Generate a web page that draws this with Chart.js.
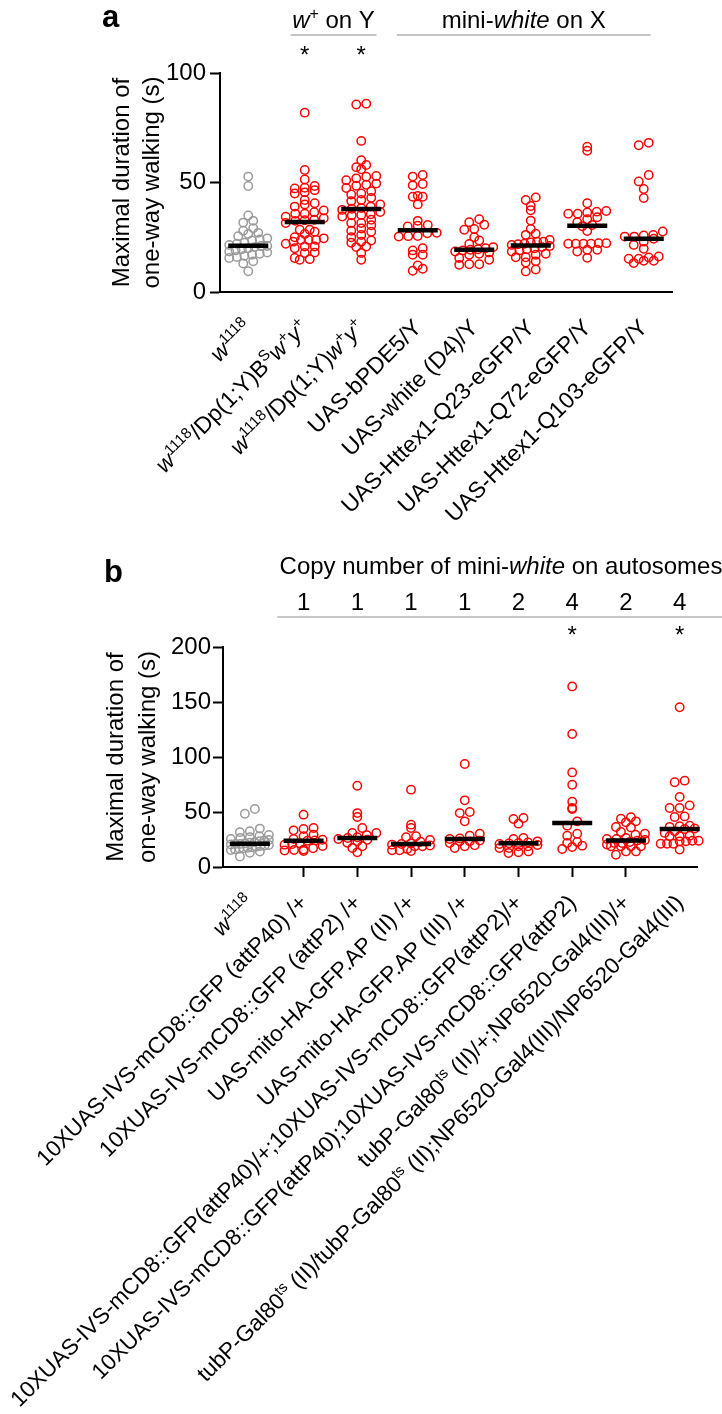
<!DOCTYPE html>
<html><head><meta charset="utf-8">
<script src="https://cdn.jsdelivr.net/npm/chart.js@4.4.1/dist/chart.umd.min.js"></script>
<style>
html,body{margin:0;padding:0;background:#fff;}
#wrap{position:relative;width:722px;height:1414px;overflow:hidden;background:#fff;}
.box{position:absolute;left:0;width:722px;}
canvas{display:block;}
</style></head><body>
<div id="wrap">
<div class="box" style="top:0;height:545px"><canvas id="chartA" width="722" height="545"></canvas></div>
<div class="box" style="top:545px;height:869px"><canvas id="chartB" width="722" height="869"></canvas></div>
</div>
<script>
// ---------------- DATA ----------------
const categoriesA = [
  '<i>w</i><sup>1118</sup>',
  '<i>w</i><sup>1118</sup>/Dp(1;Y)B<sup>S</sup><i>w</i><sup>+</sup><i>y</i><sup>+</sup>',
  '<i>w</i><sup>1118</sup>/Dp(1;Y)<i>w</i><sup>+</sup><i>y</i><sup>+</sup>',
  'UAS-bPDE5/Y',
  'UAS-white (D4)/Y',
  'UAS-Httex1-Q23-eGFP/Y',
  'UAS-Httex1-Q72-eGFP/Y',
  'UAS-Httex1-Q103-eGFP/Y'
];
const categoriesB = [
  '<i>w</i><sup>1118</sup>',
  '10XUAS-IVS-mCD8::GFP (attP40) /+',
  '10XUAS-IVS-mCD8::GFP (attP2) /+',
  'UAS-mito-HA-GFP.AP (II) /+',
  'UAS-mito-HA-GFP.AP (III) /+',
  '10XUAS-IVS-mCD8::GFP(attP40)/+;10XUAS-IVS-mCD8::GFP(attP2)/+',
  '10XUAS-IVS-mCD8::GFP(attP40);10XUAS-IVS-mCD8::GFP(attP2)',
  'tubP-Gal80<sup>ts</sup> (II)/+;NP6520-Gal4(III)/+',
  'tubP-Gal80<sup>ts</sup> (II)/tubP-Gal80<sup>ts</sup> (II);NP6520-Gal4(III)/NP6520-Gal4(III)'
];

const controlW1118 = [52.7, 48.4, 34.9, 32.5, 31.7, 29.1, 28, 27, 26.5, 25.5, 24.5, 24, 23.5, 22.5, 22, 21.5, 21, 21, 20.5, 20, 19.5, 19, 18.5, 18, 17.5, 17, 16.5, 16, 15.5, 14, 13, 9.5];

const a_dpBS = [81.9, 55.7, 51.4, 48.4, 47.6, 47.3, 46.5, 45.5, 45, 42, 40.5, 40, 39, 37.2, 36.4, 35.7, 35.7, 34.4, 33.7, 33, 32.8, 32.5, 31.5, 28.4, 28.4, 27.5, 26.5, 25, 24.5, 23.8, 23.8, 23.8, 23, 22, 20.8, 20.8, 20, 18, 17.8, 15.5, 15, 14.7];
const a_dpW = [86, 85.6, 69, 60.2, 58, 57, 56, 53, 52.6, 51.9, 51, 49.5, 49, 48.5, 47.5, 46, 45, 44.5, 43, 42, 41.5, 40, 39, 38, 38.3, 37.5, 36.5, 35.5, 35.2, 35, 34.5, 33, 31.5, 31.5, 30.5, 29, 28, 27.5, 26, 25, 23.5, 23, 22.5, 20.8, 20.5, 17.8, 14.7];
const a_bPDE5 = [53.4, 52.7, 49.3, 48.7, 43.9, 43.5, 43.5, 40, 32.5, 30.6, 30.3, 29.9, 27, 26.8, 25.6, 25.5, 25.3, 20, 19, 17, 17, 12.1, 10.6, 9.7];
const a_whiteD4 = [33.2, 31.9, 30.7, 28.8, 28.4, 25, 23.5, 21.9, 20.5, 20, 19.5, 19.3, 19, 18.5, 18, 17.5, 17, 15.5, 14.7, 12.7, 12.4, 12.7];
const a_Q23 = [43.2, 42, 39.3, 37.3, 32.6, 28.8, 26.6, 26.1, 23.8, 23, 23, 22.6, 22, 21.8, 21.5, 21, 20.5, 20, 19.5, 19, 18.5, 17.5, 17, 15.9, 15.9, 14, 13.5, 10.3, 9.4];
const a_Q72 = [66.3, 64.5, 40.5, 37, 36.7, 36.3, 35.7, 35.7, 34.1, 33.2, 31.9, 30.6, 30, 27.8, 22.3, 22.3, 22, 22, 22, 22, 19.3, 19.3, 18.5, 15.6];
const a_Q103 = [68.1, 67, 53.4, 50.5, 47, 42.9, 27.6, 26, 25.8, 25.3, 25.3, 24.3, 23, 21.5, 19.7, 16.2, 15.8, 15.2, 15.2, 14.3, 14.3, 13.2];
const mediansA = [21.1, 32, 37.9, 28.2, 19.3, 21.2, 30.3, 24.3];

const b_attP40 = [47.6, 35.5, 34.5, 33.3, 29.4, 27.9, 25.5, 24.8, 24.2, 23.9, 21.5, 20.9, 20.3, 19, 17, 15.8, 15.5, 15, 14.5];
const b_attP2 = [73.9, 49, 45.5, 35.5, 31, 30.9, 29, 27, 26.4, 25.5, 24.8, 23.3, 22, 18.8, 17.3, 13.3];
const b_mitoII = [70.3, 38.5, 35.5, 27.9, 27, 24.5, 23, 21.5, 20.9, 20.3, 19.5, 18.8, 18.8, 16.4, 15.2, 15.2, 14.5];
const b_mitoIII = [93.6, 60.6, 50, 49, 41.5, 30.3, 28.5, 26, 25.5, 24, 23.3, 23.3, 21.8, 19.7, 18.8, 17.3];
const b_twoCopies = [44.5, 43.6, 39.4, 26.4, 25.5, 23.3, 22.4, 21.8, 21.5, 20.9, 20, 18.8, 18.8, 17.3, 17.3, 14.2, 13.3, 12.7];
const b_fourCopies = [164.2, 120.9, 86, 74.8, 59.4, 53.6, 52.7, 41.5, 37.6, 30.3, 28.5, 22.7, 21.8, 19.4, 18.2, 16.4];
const b_tubNP = [45.2, 43.9, 41.5, 40.6, 36.4, 36, 31.8, 30.3, 29.4, 26.4, 25.5, 25.5, 24.5, 24, 22.7, 21.8, 21.8, 20.5, 18.8, 18.8, 18.8, 18.8, 14.2, 14.2, 11.2];
const b_tubNP2 = [145.2, 78.5, 77, 63.6, 56, 53.6, 53.6, 46, 45.5, 37.5, 37, 36.5, 35, 34.5, 32.4, 31, 28.5, 27.9, 27.9, 23.9, 23.9, 23.3, 23.3, 21.2, 21.2, 21.2, 15.8];
const mediansB = [21.2, 23.9, 26.4, 20.9, 25.5, 21.5, 40, 24.2, 34.5];

const groupsA = [controlW1118, a_dpBS, a_dpW, a_bPDE5, a_whiteD4, a_Q23, a_Q72, a_Q103];
const groupsB = [controlW1118, b_attP40, b_attP2, b_mitoII, b_mitoIII, b_twoCopies, b_fourCopies, b_tubNP, b_tubNP2];

const yTicksA = [0, 50, 100];
const yTicksB = [0, 50, 100, 150, 200];
const copyNumbersB = ['1', '1', '1', '1', '2', '4', '2', '4'];
const asterisksA = [1, 2];
const asterisksB = [6, 8];
const yTitle = ['Maximal duration of', 'one-way walking (s)'];

// ---------------- DRAWING ----------------
const FAM = '"Liberation Sans", Arial, Helvetica, sans-serif';
Chart.defaults.font.family = FAM;
Chart.defaults.color = '#000';

function parseRich(str) {
  const runs = []; let it = false, sup = false;
  str.replace(/<(\/?)(i|sup)>|([^<]+)/g, (m, close, tag, text) => {
    if (text) runs.push({text, it, sup});
    else if (tag === 'i') it = !close; else sup = !close;
    return '';
  });
  return runs;
}
function runFont(r, size) {
  const s = r.sup ? size * 0.66 : size;
  return (r.it ? 'italic ' : '') + s + 'px ' + FAM;
}
function measureRuns(ctx, runs, size) {
  let w = 0;
  for (const r of runs) { ctx.font = runFont(r, size); w += ctx.measureText(r.text).width; }
  return w;
}
function drawRuns(ctx, runs, x, y, size) {
  let cx = x;
  for (const r of runs) {
    ctx.font = runFont(r, size);
    ctx.fillText(r.text, cx, y + (r.sup ? -size * 0.38 : 0));
    cx += ctx.measureText(r.text).width;
  }
}
function drawCentered(ctx, str, cx, y, size) {
  const runs = parseRich(str);
  const w = measureRuns(ctx, runs, size);
  drawRuns(ctx, runs, cx - w / 2, y, size);
}

// Row-based scatter arrangement (points in the same row are spread sideways)
function rowOffsets(pys, rowH, spacing, maxHalf) {
  const idx = pys.map((p, i) => i).sort((a, b) => pys[b] - pys[a]);
  const out = new Array(pys.length).fill(0);
  const rows = new Map();
  for (const i of idx) {
    const k = Math.floor(pys[i] / rowH);
    if (!rows.has(k)) rows.set(k, []);
    rows.get(k).push(i);
  }
  for (const arr of rows.values()) {
    const n = arr.length;
    let sp = spacing;
    if (n > 1 && (n - 1) * sp > 2 * maxHalf) sp = 2 * maxHalf / (n - 1);
    arr.forEach((i, j) => { out[i] = (j - (n - 1) / 2) * sp; });
  }
  return out;
}

function makePanel(canvasId, cfg) {
  const datasets = cfg.groups.map((vals, i) => ({
    label: 'g' + i,
    data: vals.map(v => ({x: i, y: v})),
    pointStyle: 'circle',
    pointRadius: 4.2,
    pointBorderWidth: 1.5,
    pointBorderColor: i === 0 ? '#9a9a9a' : '#ff0000',
    pointBackgroundColor: 'rgba(255,255,255,0)',
    showLine: false,
    order: 1,
    clip: false
  }));
  datasets.push({
    label: 'median',
    data: cfg.medians.map((m, i) => ({x: i, y: m})),
    pointStyle: 'line',
    pointRadius: 20,
    pointBorderWidth: 4.5,
    pointBorderColor: '#000',
    showLine: false,
    order: 0,
    clip: false
  });
  const gridOpts = {display: true, drawOnChartArea: false, drawTicks: true, tickLength: 10, tickWidth: 2, tickColor: '#000', color: '#000'};
  const decor = {
    id: 'decor',
    afterDraw(chart) {
      const ctx = chart.ctx; const xs = chart.scales.x;
      ctx.save();
      ctx.fillStyle = '#000'; ctx.textAlign = 'left'; ctx.textBaseline = 'alphabetic';
      cfg.categories.forEach((lab, i) => {
        const runs = parseRich(lab);
        const w = measureRuns(ctx, runs, cfg.labelSize);
        ctx.save();
        ctx.translate(xs.getPixelForValue(i) + 5, chart.chartArea.bottom + 37);
        ctx.rotate(-Math.PI / 4);
        drawRuns(ctx, runs, -w, 0, cfg.labelSize);
        ctx.restore();
      });
      cfg.header(ctx, chart);
      ctx.restore();
    }
  };
  const chart = new Chart(document.getElementById(canvasId), {
    type: 'scatter',
    data: {datasets},
    options: {
      responsive: false,
      animation: false,
      events: [],
      layout: {padding: cfg.padding},
      plugins: {legend: {display: false}, tooltip: {enabled: false}},
      scales: {
        x: {
          type: 'linear', min: -0.5, max: cfg.xMax,
          ticks: {display: false, stepSize: 1},
          afterBuildTicks: s => { s.ticks = s.ticks.filter(t => Number.isInteger(t.value)); },
          grid: gridOpts,
          border: {display: true, color: '#000', width: 2},
          afterFit: s => { s.height = cfg.xHeight; }
        },
        y: {
          type: 'linear', min: 0, max: cfg.yTicks[cfg.yTicks.length - 1],
          afterBuildTicks: s => { s.ticks = cfg.yTicks.map(v => ({value: v})); },
          ticks: {font: {size: 24}, color: '#000', padding: cfg.tickPad},
          grid: gridOpts,
          border: {display: true, color: '#000', width: 2},
          title: {display: true, text: yTitle, color: '#000', font: {size: 24, lineHeight: cfg.titleLH}, padding: {top: cfg.titlePad, bottom: 0}},
          afterFit: s => { s.width = cfg.yWidth; }
        }
      }
    },
    plugins: [decor]
  });
  const xs = chart.scales.x, ys = chart.scales.y;
  const pxPerX = xs.getPixelForValue(1) - xs.getPixelForValue(0);
  cfg.groups.forEach((vals, i) => {
    const offs = rowOffsets(vals.map(v => ys.getPixelForValue(v)), cfg.rowH, 10, 19);
    chart.data.datasets[i].data = vals.map((v, k) => ({x: i + offs[k] / pxPerX, y: v}));
  });
  chart.update('none');
  return chart;
}

// Panel a
makePanel('chartA', {
  categories: categoriesA, groups: groupsA, medians: mediansA, yTicks: yTicksA,
  padding: {left: 0, top: 73, right: 50, bottom: 0},
  xMax: 7.5, xHeight: 545 - 292, yWidth: 220, tickPad: 4, rowH: 7,
  titleLH: 1.25, titlePad: 107, labelSize: 23,
  header(ctx, chart) {
    const xs = chart.scales.x;
    ctx.font = 'bold 31px ' + FAM; ctx.fillText('a', 102, 27);
    const hdr = [
      {from: 0.75, to: 2.27, text: '<i>w</i><sup>+</sup> on Y'},
      {from: 2.63, to: 7.12, text: 'mini-<i>white</i> on X'}
    ];
    hdr.forEach(h => {
      const x0 = xs.getPixelForValue(h.from), x1 = xs.getPixelForValue(h.to);
      ctx.strokeStyle = '#b3b3b3'; ctx.lineWidth = 1.5;
      ctx.beginPath(); ctx.moveTo(x0, 35); ctx.lineTo(x1, 35); ctx.stroke();
      drawCentered(ctx, h.text, (x0 + x1) / 2, 28, 24);
    });
    ctx.font = '24px ' + FAM; ctx.textAlign = 'center';
    asterisksA.forEach(i => ctx.fillText('*', xs.getPixelForValue(i), 62.5));
    ctx.textAlign = 'left';
  }
});

// Panel b
makePanel('chartB', {
  categories: categoriesB, groups: groupsB, medians: mediansB, yTicks: yTicksB,
  padding: {left: 0, top: 102, right: 0, bottom: 0},
  xMax: -0.5 + 499 / 56.5, xHeight: 869 - 322, yWidth: 223, tickPad: 2, rowH: 6,
  titleLH: 1.35, titlePad: 100, labelSize: 22.5,
  header(ctx, chart) {
    const xs = chart.scales.x;
    ctx.font = 'bold 31px ' + FAM; ctx.fillText('b', 104, 37);
    drawCentered(ctx, 'Copy number of mini-<i>white</i> on autosomes', 501, 29, 24);
    ctx.strokeStyle = '#b3b3b3'; ctx.lineWidth = 1.5;
    ctx.beginPath(); ctx.moveTo(xs.getPixelForValue(0.51), 72); ctx.lineTo(722, 72); ctx.stroke();
    ctx.font = '24px ' + FAM; ctx.textAlign = 'center';
    copyNumbersB.forEach((n, k) => ctx.fillText(n, xs.getPixelForValue(k + 1), 64.5));
    asterisksB.forEach(i => ctx.fillText('*', xs.getPixelForValue(i), 97.5));
    ctx.textAlign = 'left';
  }
});
</script>
</body></html>
